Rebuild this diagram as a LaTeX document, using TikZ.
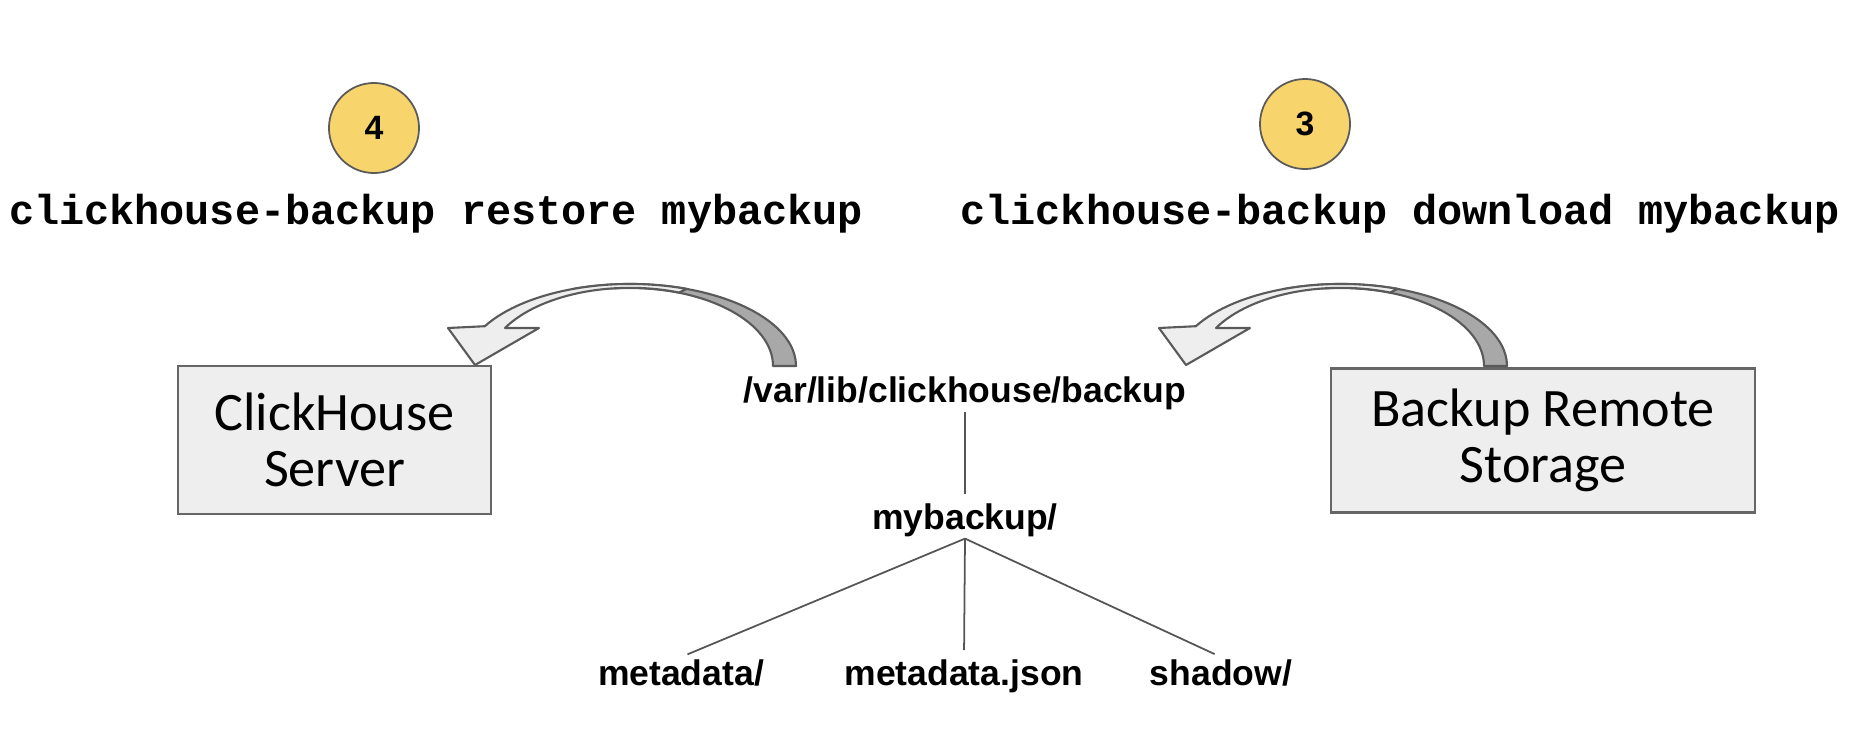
\documentclass[tikz,border=0pt]{standalone}
\usepackage{fontspec}
\setmainfont{Carlito}
\newfontfamily\dirfont{Liberation Sans Bold}
\newfontfamily\cmdfont{Liberation Mono Bold}
\usetikzlibrary{positioning}

\definecolor{boxfill}{HTML}{EEEEEE}
\definecolor{boxline}{HTML}{666666}
\definecolor{stepyellow}{HTML}{F7D46C}
\definecolor{twistdark}{HTML}{A8A8A8}
\definecolor{twistline}{HTML}{5A5A5A}
\definecolor{treeline}{HTML}{555555}

\begin{document}
\begin{tikzpicture}[x=0.01cm,y=-0.01cm,
  srvbox/.style={draw=boxline,line width=0.6pt,fill=boxfill,align=center,
    inner sep=0pt,font=\fontsize{15.4}{16}\selectfont},
  stepnum/.style={circle,draw=twistline,line width=0.5pt,fill=stepyellow,
    minimum size=0.9cm,inner sep=0pt,font=\dirfont\fontsize{9.6}{10}\selectfont},
  cmd/.style={anchor=base,inner sep=0pt,font=\cmdfont\fontsize{11.9}{12}\selectfont},
  folder/.style={anchor=base,inner sep=0.43pt,font=\dirfont\fontsize{10.1}{11}\selectfont},
  branch/.style={draw=treeline,line width=0.5pt,shorten >=2pt},
  twist/.style={draw=twistline,line width=0.6pt,line join=round}]

\useasboundingbox (0,0) rectangle (1869,742);

% steps and commands
\node[stepnum] (step4) at (374,128) {4};
\node[stepnum] (step3) at (1305,124) {3};
\node[cmd] (restore) at (436,224) {clickhouse-backup restore mybackup};
\node[cmd] (download) at (1400,224) {clickhouse-backup download mybackup};

% servers
\node[srvbox,minimum width=3.13cm,minimum height=1.48cm] (server) at (334.5,440) {ClickHouse\\Server};
\node[srvbox,minimum width=4.24cm,minimum height=1.44cm] (remote) at (1543,440.5) {Backup Remote\\Storage};

% backup directory tree
\node[folder] (backupdir) at (965,402) {/var/lib/clickhouse/backup};
\node[folder] (mybackup) at (965,529) {mybackup/};
\node[folder] (metadir) at (681,685) {metadata/};
\node[folder] (metajson) at (964,685) {metadata.json};
\node[folder] (shadow) at (1221,685) {shadow/};

\draw[branch] (backupdir.south) -- (mybackup.north);
\draw[branch] (mybackup.south) -- (metadir.north);
\draw[branch] (mybackup.south) -- (metajson.north);
\draw[branch] (mybackup.south) -- (shadow.north);

% curved arrows: restore (left) and download (right)
\foreach \dx in {0,711}{
  \begin{scope}[shift={(\dx,0)}]
    \filldraw[twist,fill=twistdark] (796,366)
      arc[start angle=0,end angle=-110,x radius=166,y radius=82]
      -- (630,288) arc[start angle=-90,end angle=0,x radius=143,y radius=78] -- cycle;
    \filldraw[twist,fill=boxfill] (686.8,288.9)
      arc[start angle=-70,end angle=-151,x radius=166,y radius=82]
      -- (448,328) -- (475,365) -- (539,328) -- (505,328)
      arc[start angle=-151,end angle=-70,x radius=143,y radius=78] -- cycle;
  \end{scope}
}

\end{tikzpicture}
\end{document}
